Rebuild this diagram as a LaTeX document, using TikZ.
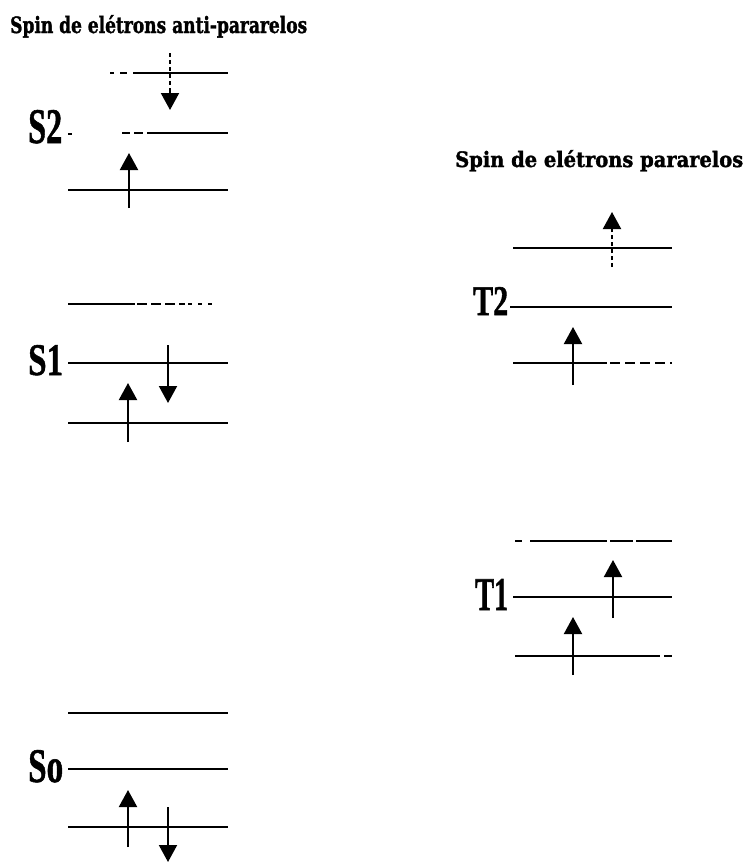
\documentclass[tikz,border=0pt]{standalone}
\usepackage{fontspec}
\setmainfont{Liberation Serif}[BoldFeatures={FakeBold=1.2}]
\newfontfamily\titlefont{DejaVu Serif}[BoldFeatures={FakeBold=1.6}]
\usetikzlibrary{arrows.meta}
\begin{document}
\begin{tikzpicture}[x=1pt,y=-1pt,
  level/.style={line width=2.2pt},
  electron/.style={line width=2pt,-{Triangle[length=17pt,width=18pt]}},
  faintshaft/.style={line width=1.8pt, dash pattern=on 4pt off 3pt},
  lbl/.style={anchor=base west, inner sep=0pt}]
\useasboundingbox (0,0) rectangle (749,862);
% titles
\node[lbl] (ta) at (10,33) {\resizebox{297pt}{18pt}{\titlefont\bfseries Spin de elétrons anti-pararelos}};
\node[lbl] (tp) at (455,167) {\resizebox{288pt}{17pt}{\titlefont\bfseries Spin de elétrons pararelos}};
% labels
\node[lbl] (S2) at (28,143) {\resizebox{34pt}{33pt}{\bfseries S2}};
\node[lbl] (S1) at (28,375) {\resizebox{35pt}{30pt}{\bfseries S1}};
\node[lbl] (So) at (28,782) {\resizebox{35pt}{32pt}{\bfseries So}};
\node[lbl] (T2) at (473,315) {\resizebox{35pt}{28pt}{\bfseries T2}};
\node[lbl] (T1) at (475,610) {\resizebox{33pt}{31pt}{\bfseries T1}};

% ---------- S2 ----------
\draw[level] (110,73) -- (114,73);
\draw[level] (120,73) -- (127,73);
\draw[level] (133,73) -- (228,73);
\draw[level] (122,133) -- (130,133);
\draw[level] (134,133) -- (143,133);
\draw[level] (147,133) -- (228,133);
\draw[line width=1.5pt] (68,134) -- (72,134);
\draw[level] (68,190) -- (228,190);
\draw[faintshaft] (170,53) -- (170,92);
\draw[electron] (170,90) -- (170,110);
\draw[electron] (129,208) -- (129,153);

% ---------- S1 ----------
\draw[level] (68,304) -- (135,304);
\draw[level, dash pattern=on 10pt off 4pt] (137,304) -- (185,304);
\draw[level, dash pattern=on 4pt off 6pt] (188,304) -- (215,304);
\draw[level] (68,363) -- (228,363);
\draw[electron] (168,345) -- (168,403);
\draw[level] (68,423) -- (228,423);
\draw[electron] (128,442) -- (128,383);

% ---------- So ----------
\draw[level] (68,713) -- (228,713);
\draw[level] (68,769) -- (228,769);
\draw[level] (68,827) -- (228,827);
\draw[electron] (128,847) -- (128,790);
\draw[electron] (168,807) -- (168,862);

% ---------- T2 ----------
\draw[level] (513,248) -- (672,248);
\draw[faintshaft] (612,267) -- (612,228);
\draw[electron] (612,232) -- (612,212);
\draw[line width=1.5pt] (510,307) -- (515,307);
\draw[level] (515,307) -- (672,307);
\draw[level] (513,363) -- (607,363);
\draw[level, dash pattern=on 10pt off 5pt] (610,363) -- (672,363);
\draw[electron] (573,385) -- (573,327);

% ---------- T1 ----------
\draw[level] (515,541) -- (522,541);
\draw[level] (530,541) -- (607,541);
\draw[level] (610,541) -- (633,541);
\draw[level] (636,541) -- (672,541);
\draw[level] (513,597) -- (672,597);
\draw[electron] (613,618) -- (613,560);
\draw[level] (515,656) -- (660,656);
\draw[level] (664,656) -- (672,656);
\draw[electron] (573,675) -- (573,617);
\end{tikzpicture}
\end{document}
